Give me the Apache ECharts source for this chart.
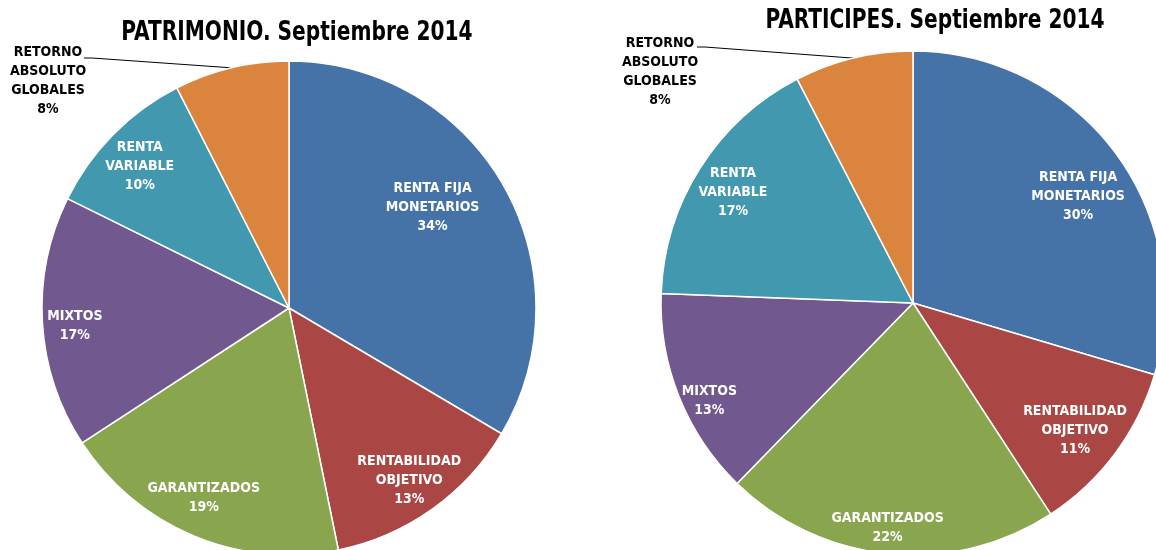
<!DOCTYPE html>
<html>
<head>
<meta charset="utf-8">
<title>Patrimonio y partícipes. Septiembre 2014</title>
<script src="https://cdn.jsdelivr.net/npm/echarts@6/dist/echarts.min.js"></script>
<style>
  html, body { margin: 0; padding: 0; background: #fff; }
  #chart { width: 1156px; height: 550px; }
</style>
</head>
<body>
<div id="chart"></div>
<script>
// categorias, desde las 12 en sentido horario (igual en las dos tartas)
const categories = ['RENTA FIJA\nMONETARIOS', 'RENTABILIDAD\nOBJETIVO', 'GARANTIZADOS', 'MIXTOS', 'RENTA\nVARIABLE', 'RETORNO\nABSOLUTO\nGLOBALES'];

const patrimonioShare = [33.5, 13.3, 19.0, 16.5, 10.2, 7.5];
const patrimonioPct = [34, 13, 19, 17, 10, 8];

// participes
const participesShare = [29.6, 11.2, 21.5, 13.3, 16.8, 7.6];
const participesPct = [30, 11, 22, 13, 17, 8];

const titles = ['PATRIMONIO. Septiembre 2014', 'PARTICIPES. Septiembre 2014'];

const colors = ['#4572A7', '#AA4643', '#89A54E', '#71588F', '#4198AF', '#DB843D'];
const font = "'Liberation Sans Narrow', 'DejaVu Sans Condensed', sans-serif";

// pequeños ajustes de los rotulos interiores (px)
const shiftLeft = [[-35, 1], [1, 5], [-6, 0], [-9, 6], [-3, 3]];
const shiftRight = [[-3, 19], [-6, 2], [-5, 16], [-9, 20], [-3, 2]];

const labelText = {
  fontFamily: font,
  fontWeight: 'bold',
  fontSize: 14,
  lineHeight: 19,
  align: 'center'
};

// una tarta = porciones + corona transparente que lleva los rotulos interiores
const makePie = (share, pct, center, r, shift, outLabel) => {
  const last = share.length - 1;
  const data = share.map((v, i) => ({ name: categories[i], value: v }));
  const text = p => p.name + '\n' + pct[p.dataIndex] + '%';
  return [
    {
      type: 'pie',
      center: center,
      radius: r,
      startAngle: 90,
      silent: true,
      avoidLabelOverlap: false,
      itemStyle: { borderColor: '#fff', borderWidth: 1.5 },
      label: Object.assign({ position: 'outside', formatter: text, color: '#000' }, labelText),
      labelLine: { lineStyle: { color: '#000', width: 1 } },
      labelLayout: p => {
        if (p.dataIndex !== last) return {};
        const e = outLabel.lineEnd;
        return {
          x: outLabel.x,
          y: outLabel.y,
          align: 'center',
          verticalAlign: 'middle',
          labelLinePoints: [p.labelLinePoints[0], [e[0] + 8, e[1]], e]
        };
      },
      data: data.map((d, i) => Object.assign({}, d, {
        label: { show: i === last },
        labelLine: { show: i === last }
      }))
    },
    {
      type: 'pie',
      center: center,
      radius: [r * 0.64, r],
      startAngle: 90,
      silent: true,
      itemStyle: { color: 'rgba(0,0,0,0)', borderWidth: 0 },
      label: Object.assign({ position: 'inside', formatter: text, color: '#fff' }, labelText),
      labelLine: { show: false },
      labelLayout: p => {
        const s = shift[p.dataIndex] || [0, 0];
        return { dx: s[0], dy: s[1] };
      },
      data: data.map((d, i) => Object.assign({}, d, { label: { show: i !== last } }))
    }
  ];
};

// titulo estrecho (como Arial Narrow), comprimido en horizontal
const makeTitle = (text, x, y) => ({
  type: 'text',
  x: x,
  y: y,
  scaleX: 0.83,
  silent: true,
  style: {
    text: text,
    fill: '#000',
    font: "bold 27px " + font,
    textAlign: 'center',
    textVerticalAlign: 'middle'
  }
});

const chart = echarts.init(document.getElementById('chart'));

chart.setOption({
  animation: false,
  color: colors,
  graphic: [
    makeTitle(titles[0], 297, 33),
    makeTitle(titles[1], 935, 21)
  ],
  series: [].concat(
    makePie(patrimonioShare, patrimonioPct, [289, 308], 247, shiftLeft,
      { x: 48, y: 81, lineEnd: [84, 58] }),
    makePie(participesShare, participesPct, [913, 303], 252, shiftRight,
      { x: 660, y: 72, lineEnd: [697, 47] })
  )
});
</script>
</body>
</html>
